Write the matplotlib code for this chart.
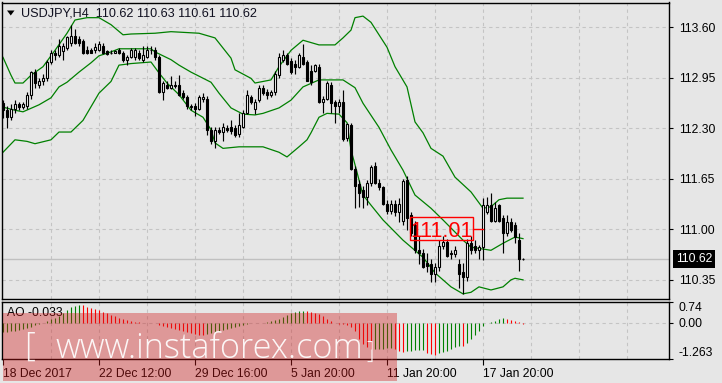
import matplotlib
matplotlib.use('Agg')
import matplotlib.pyplot as plt
from matplotlib.patches import Rectangle, Polygon
from matplotlib import font_manager as fm
import numpy as np

plt.rcParams['font.family'] = ['Liberation Sans', 'DejaVu Sans']

# ---------------- data ----------------
opens = [112.62, 112.53, 112.44, 112.55, 112.61, 112.57, 112.59, 112.73, 113.02, 112.86,
         112.90, 112.94, 113.15, 113.27, 113.24, 113.29, 113.33, 113.39, 113.48, 113.45,
         113.42, 113.31, 113.30, 113.30, 113.31, 113.36, 113.29, 113.27, 113.27, 113.31,
         113.26, 113.17, 113.21, 113.22, 113.27, 113.17, 113.22, 113.31, 113.30, 113.21,
         112.76, 112.86, 112.82, 112.86, 112.86, 112.75, 112.70, 112.57, 112.59, 112.55,
         112.67, 112.68, 112.27, 112.13, 112.28, 112.25, 112.30, 112.31, 112.30, 112.23,
         112.31, 112.50, 112.70, 112.54, 112.66, 112.81, 112.77, 112.72, 112.76, 112.98,
         113.18, 113.24, 113.16, 113.13, 113.09, 113.22, 113.15, 113.04, 113.04, 113.09,
         112.63, 112.68, 112.86, 112.63, 112.59, 112.63, 112.17, 112.34, 111.78, 111.58,
         111.50, 111.41, 111.60, 111.81, 111.60, 111.54, 111.33, 111.24, 111.33, 111.22,
         111.11, 111.63, 111.18, 111.05, 110.73, 110.70, 110.57, 110.56, 110.43, 110.51,
         110.79, 110.84, 110.70, 110.68, 110.56, 110.45, 110.39, 110.83, 110.79, 110.73,
         110.77, 111.22, 111.31, 111.11, 111.31, 111.14, 110.95, 111.09, 111.05, 110.86,
         110.62]
highs = [112.66, 112.58, 112.61, 112.66, 112.64, 112.63, 112.76, 113.04, 113.06, 112.94,
         112.99, 113.17, 113.30, 113.30, 113.45, 113.39, 113.49, 113.63, 113.57, 113.49,
         113.45, 113.35, 113.33, 113.40, 113.42, 113.39, 113.31, 113.30, 113.30, 113.33,
         113.29, 113.24, 113.33, 113.33, 113.30, 113.36, 113.35, 113.35, 113.34, 113.24,
         112.91, 112.90, 112.97, 112.91, 112.98, 112.79, 112.72, 112.61, 112.62, 112.72,
         112.75, 112.71, 112.31, 112.31, 112.31, 112.37, 112.34, 112.40, 112.34, 112.49,
         112.53, 112.79, 112.72, 112.67, 112.85, 112.85, 112.80, 112.79, 113.04, 113.26,
         113.30, 113.26, 113.20, 113.17, 113.26, 113.38, 113.17, 113.11, 113.13, 113.12,
         112.71, 112.91, 112.89, 112.66, 112.68, 112.79, 112.37, 112.36, 111.81, 111.63,
         111.55, 111.63, 111.82, 111.86, 111.65, 111.56, 111.37, 111.37, 111.37, 111.40,
         111.65, 111.68, 111.22, 111.11, 110.91, 110.75, 110.70, 110.62, 110.57, 110.86,
         110.91, 110.88, 110.74, 110.78, 110.62, 110.57, 110.88, 110.92, 110.86, 110.80,
         111.40, 111.42, 111.47, 111.35, 111.33, 111.18, 111.18, 111.14, 111.09, 110.95,
         110.63]
lows = [112.43, 112.30, 112.40, 112.49, 112.53, 112.54, 112.55, 112.68, 112.82, 112.81,
        112.86, 112.91, 113.12, 113.17, 113.21, 113.17, 113.30, 113.36, 113.38, 113.36,
        113.25, 113.25, 113.26, 113.27, 113.29, 113.25, 113.24, 113.25, 113.26, 113.25,
        113.15, 113.11, 113.20, 113.18, 113.17, 113.15, 113.20, 113.25, 113.18, 112.75,
        112.66, 112.80, 112.80, 112.81, 112.71, 112.67, 112.55, 112.53, 112.46, 112.53,
        112.64, 112.21, 112.10, 112.05, 112.22, 112.14, 112.25, 112.23, 112.18, 112.19,
        112.30, 112.48, 112.61, 112.48, 112.63, 112.72, 112.68, 112.70, 112.73, 112.95,
        113.15, 113.11, 113.00, 113.00, 113.07, 113.11, 112.90, 112.86, 113.02, 112.62,
        112.49, 112.66, 112.49, 112.36, 112.50, 112.14, 112.14, 111.76, 111.27, 111.28,
        111.27, 111.31, 111.56, 111.58, 111.50, 111.31, 111.19, 111.20, 111.17, 111.09,
        111.06, 110.99, 110.91, 110.70, 110.55, 110.50, 110.45, 110.32, 110.32, 110.47,
        110.75, 110.64, 110.62, 110.65, 110.24, 110.17, 110.34, 110.68, 110.70, 110.62,
        110.60, 111.19, 111.09, 111.09, 111.09, 110.69, 110.92, 110.96, 110.83, 110.47,
        110.61]
closes = [112.53, 112.44, 112.55, 112.61, 112.57, 112.61, 112.73, 113.02, 112.88, 112.90,
          112.95, 113.15, 113.27, 113.24, 113.36, 113.36, 113.47, 113.48, 113.39, 113.39,
          113.26, 113.27, 113.27, 113.34, 113.38, 113.26, 113.25, 113.26, 113.29, 113.26,
          113.17, 113.21, 113.30, 113.30, 113.20, 113.24, 113.31, 113.30, 113.21, 112.76,
          112.88, 112.82, 112.85, 112.84, 112.73, 112.70, 112.58, 112.59, 112.55, 112.70,
          112.70, 112.27, 112.14, 112.28, 112.25, 112.31, 112.27, 112.26, 112.21, 112.34,
          112.50, 112.72, 112.63, 112.64, 112.81, 112.75, 112.72, 112.76, 113.00, 113.22,
          113.24, 113.13, 113.02, 113.09, 113.24, 113.13, 112.91, 112.89, 113.11, 112.63,
          112.68, 112.88, 112.62, 112.59, 112.64, 112.16, 112.35, 111.78, 111.56, 111.47,
          111.41, 111.59, 111.80, 111.60, 111.54, 111.33, 111.23, 111.33, 111.22, 111.33,
          111.62, 111.14, 110.95, 110.73, 110.69, 110.52, 110.53, 110.43, 110.52, 110.79,
          110.84, 110.66, 110.68, 110.73, 110.43, 110.39, 110.83, 110.73, 110.74, 110.77,
          111.31, 111.31, 111.11, 111.27, 111.11, 110.95, 111.09, 110.99, 110.90, 110.62,
          110.62]

upper_idx = [0, 2, 3, 5, 7, 10, 13, 16, 18, 21, 24, 27, 30, 32, 38, 42, 49, 53, 57, 58,
             62, 63, 67, 69, 72, 75, 79, 83, 85, 87, 88, 90, 92, 96, 98, 101, 103, 105, 107, 110,
             113, 117, 120, 122, 124, 126, 130]
upper_val = [113.21, 112.98, 112.88, 112.88, 112.98, 113.09, 113.30, 113.52, 113.69, 113.72,
             113.72, 113.63, 113.50, 113.51, 113.52, 113.54, 113.52, 113.46, 113.20, 113.05,
             112.94, 112.88, 112.92, 113.09, 113.30, 113.43, 113.37, 113.37, 113.46, 113.56,
             113.72, 113.74, 113.66, 113.34, 113.09, 112.83, 112.38, 112.24, 112.04, 111.94,
             111.67, 111.48, 111.27, 111.29, 111.38, 111.40, 111.40]
mid_idx = [0, 3, 5, 9, 12, 14, 16, 19, 22, 24, 27, 29, 37, 38, 42, 44, 47, 52, 54, 57,
           60, 63, 65, 69, 72, 75, 79, 85, 88, 90, 94, 97, 100, 103, 107, 110, 115, 117, 122, 125,
           128, 130]
mid_val = [112.57, 112.53, 112.51, 112.60, 112.69, 112.83, 112.89, 113.02, 113.14, 113.23,
           113.28, 113.32, 113.32, 113.28, 113.18, 113.11, 113.02, 112.89, 112.75, 112.56,
           112.48, 112.47, 112.49, 112.56, 112.66, 112.83, 112.92, 112.92, 112.82, 112.62,
           112.31, 112.02, 111.76, 111.44, 111.27, 111.12, 110.86, 110.77, 110.73, 110.82,
           110.90, 110.88]
low_idx = [0, 3, 6, 8, 12, 14, 17, 18, 20, 24, 27, 29, 32, 37, 39, 41, 44, 47, 50, 52,
           53, 55, 59, 65, 69, 71, 74, 76, 77, 79, 81, 84, 86, 87, 88, 90, 92, 95, 100, 105,
           108, 112, 115, 117, 119, 122, 125, 127, 128, 130]
low_val = [111.99, 112.15, 112.13, 112.10, 112.15, 112.25, 112.25, 112.30, 112.40, 112.75,
           112.90, 113.11, 113.13, 113.15, 113.01, 112.88, 112.73, 112.53, 112.44, 112.28,
           112.11, 112.04, 112.06, 112.06, 111.99, 111.93, 112.06, 112.15, 112.24, 112.44,
           112.49, 112.48, 112.37, 112.02, 111.83, 111.44, 111.31, 111.12, 110.86, 110.64,
           110.44, 110.26, 110.17, 110.19, 110.26, 110.22, 110.26, 110.35, 110.37, 110.35]

ao_values = [-0.33, -0.31, -0.29, -0.27, -0.25, -0.22, -0.18, -0.13, -0.08, -0.04,
             0.01, 0.06, 0.12, 0.18, 0.24, 0.33, 0.45, 0.54, 0.60, 0.63,
             0.62, 0.57, 0.51, 0.48, 0.44, 0.38, 0.33, 0.27, 0.24, 0.18,
             0.14, 0.10, 0.06, 0.04, 0.02, 0.01, 0.00, -0.01, -0.02, -0.06,
             -0.10, -0.14, -0.18, -0.21, -0.25, -0.29, -0.32, -0.36, -0.38, -0.42,
             -0.44, -0.40, -0.36, -0.32, -0.29, -0.25, -0.21, -0.18, -0.14, -0.11,
             -0.07, -0.04, -0.02, -0.01, 0.00, 0.01, 0.03, 0.06, 0.10, 0.14,
             0.20, 0.26, 0.33, 0.38, 0.40, 0.43, 0.40, 0.38, 0.33, 0.30,
             0.24, 0.14, 0.06, 0.00, -0.03, -0.05, -0.08, -0.15, -0.30, -0.55,
             -0.75, -0.85, -0.93, -0.92, -0.91, -0.90, -0.89, -0.88, -0.92, -0.98,
             -1.01, -1.00, -0.98, -0.96, -0.95, -0.94, -1.05, -1.10, -1.13, -1.07,
             -1.02, -0.98, -0.92, -0.86, -0.80, -0.82, -0.70, -0.57, -0.42, -0.28,
             -0.12, -0.01, 0.03, 0.07, 0.12, 0.17, 0.14, 0.10, 0.06, 0.02,
             -0.033]

price_ticks = [113.60, 112.95, 112.30, 111.65, 111.00, 110.35]
ao_ticks = [0.74, 0.00, -1.263]
ao_tick_labels = ['0.74', '0.00', '-1.263']
time_tick_idx = [0, 24, 48, 72, 96, 120]
time_labels = ['18 Dec 2017', '22 Dec 12:00', '29 Dec 16:00', '5 Jan 20:00',
               '11 Jan 20:00', '17 Jan 20:00']
last_price = 110.62
marked_level = 111.01
title_text = 'USDJPY,H4  110.62 110.63 110.61 110.62'
ao_text = 'AO -0.033'
watermark = 'www.instaforex.com'

# ---------------- style ----------------
W, H, DPI = 722, 383, 100
BG = '#e6e6e6'
GRID = '#c4c4c4'
GREEN = '#008000'
RED = '#ff0000'
FS = 8.7


def fx(px):
    return px / W


def fy(py):
    return 1 - py / H


def light_font():
    for fam in ['Roboto', 'Open Sans', 'Lato', 'Noto Sans']:
        try:
            path = fm.findfont(fm.FontProperties(family=fam, weight='light'),
                               fallback_to_default=False)
            if 'light' in path.lower():
                return fam, 'light'
        except Exception:
            pass
    return 'Liberation Sans', 'normal'


fig = plt.figure(figsize=(W / DPI, H / DPI), dpi=DPI, facecolor=BG)
ax = fig.add_axes([fx(2), fy(299.3), fx(669) - fx(2), fy(2.5) - fy(299.3)], facecolor=BG)
ax2 = fig.add_axes([fx(2), fy(359), fx(669) - fx(2), fy(301.7) - fy(359)], facecolor=BG)

n = len(closes)
xs = np.arange(n)
x_left, x_right = -0.25, 166.5
for a in (ax, ax2):
    a.set_xlim(x_left, x_right)
    for s in a.spines.values():
        s.set_color('black')
        s.set_linewidth(1.0)
ax.set_ylim(110.10, 113.915)
ax2.set_ylim(ao_ticks[2], ao_ticks[0])

# grid
dash = (0, (3, 3))
for gx in np.arange(12, x_right, 12):
    ax.axvline(gx, color=GRID, lw=0.8, ls=dash, zorder=0)
    ax2.axvline(gx, color=GRID, lw=0.8, ls=dash, zorder=0)
for p in price_ticks:
    ax.axhline(p, color=GRID, lw=0.8, ls=dash, zorder=0)
ax2.axhline(0, color=GRID, lw=0.8, ls=dash, zorder=0)

# current price line
ax.axhline(last_price, color='#c0c0c0', lw=1.0, zorder=0.5)

# bands
for idx, vals in ((upper_idx, upper_val), (mid_idx, mid_val), (low_idx, low_val)):
    ax.plot(idx, vals, color=GREEN, lw=0.9, zorder=2)

# candles
o = np.array(opens); h = np.array(highs); l = np.array(lows); c = np.array(closes)
ax.vlines(xs, l, h, color='black', lw=0.85, zorder=3)
up = c >= o
ax.bar(xs[up], (c - o)[up], bottom=o[up], width=0.5, color='white',
       edgecolor='black', linewidth=0.8, zorder=4)
ax.bar(xs[~up], (o - c)[~up], bottom=c[~up], width=0.5, color='black',
       edgecolor='black', linewidth=0.8, zorder=4)

# marked level label
ax.add_patch(Rectangle((101.75, marked_level - 0.15), 15.75, 0.30, fill=False,
                       ec=RED, lw=1.0, zorder=6))
ax.text(109.6, marked_level, f'{marked_level:.2f}', color=RED, fontsize=15.5,
        ha='center', va='center_baseline', zorder=6)
ax.plot([117.5, 120], [marked_level, marked_level], color=RED, lw=1.0, zorder=6)

# axes ticks
ax.yaxis.tick_right()
ax.set_yticks(price_ticks)
ax.set_yticklabels([f'{p:.2f}' for p in price_ticks])
ax.tick_params(axis='y', direction='out', length=3, width=0.8, pad=4,
               labelsize=FS, colors='black')
ax.tick_params(axis='x', bottom=False, labelbottom=False)

ax2.yaxis.tick_right()
ax2.set_yticks(ao_ticks)
ax2.set_yticklabels(ao_tick_labels)
ax2.tick_params(axis='y', direction='out', length=3, width=0.8, pad=4,
                labelsize=FS, colors='black')
yl = ax2.get_yticklabels()
yl[0].set_va('top')
yl[2].set_va('bottom')
ax2.set_xticks(time_tick_idx)
ax2.set_xticklabels(time_labels, ha='left')
ax2.tick_params(axis='x', direction='out', length=4, width=0.8, pad=2.5,
                labelsize=FS, colors='black')

# AO histogram
ao = np.array(ao_values)
diff = np.diff(ao, prepend=ao[0] - 1e-9)
colors = np.where(diff > 0, GREEN, RED)
ax2.vlines(xs, 0, ao, colors=colors, lw=0.8, zorder=2)

# current price box
ax.annotate(f'{last_price:.2f}', xy=(1, last_price), xycoords=('axes fraction', 'data'),
            xytext=(7, 0), textcoords='offset pixels', ha='left', va='center',
            color='white', fontsize=FS,
            bbox=dict(boxstyle='square,pad=0.25', fc='black', ec='none'),
            annotation_clip=False, zorder=10)

# title and labels
fig.text(fx(21), fy(13), title_text, fontsize=9.1, va='center', ha='left', color='#101020')
fig.add_artist(Polygon([(fx(7), fy(10.5)), (fx(14.5), fy(10.5)), (fx(10.75), fy(15.5))],
                       closed=True, transform=fig.transFigure, fc='black', ec='none'))
fig.text(fx(7), fy(312.5), ao_text, fontsize=FS, va='center', ha='left', color='black')

# watermark
fig.add_artist(Rectangle((fx(2.7), fy(380.5)), fx(396.7) - fx(2.7), fy(313.3) - fy(380.5),
                         transform=fig.transFigure, fc=(0.82, 0.10, 0.10, 0.38),
                         ec='none', zorder=20))
wm_family, wm_weight = light_font()
wm = fig.text(fx(55), fy(358), watermark, family=wm_family, weight=wm_weight, fontsize=30,
              color='white', alpha=0.92, ha='left', va='baseline', zorder=21)
r = fig.canvas.get_renderer()
wbox = wm.get_window_extent(r)
wm.set_fontsize(30 * 307.0 / wbox.width)
fig.text(fx(24), fy(356), '[', family=wm_family, weight=wm_weight, fontsize=24,
         color='white', alpha=0.92, ha='left', va='baseline', zorder=21)
fig.text(fx(366), fy(357.5), ']', family=wm_family, weight=wm_weight, fontsize=17,
         color='white', alpha=0.92, ha='left', va='baseline', zorder=21)

fig.savefig('out.png', dpi=DPI, facecolor=BG)
